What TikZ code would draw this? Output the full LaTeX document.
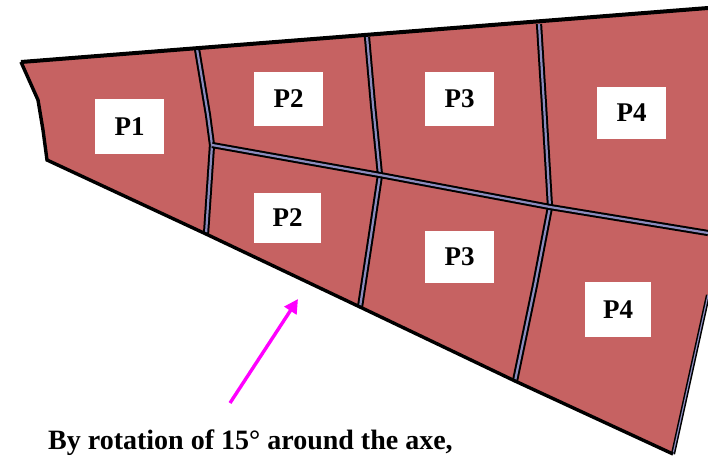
\documentclass[tikz,border=0pt]{standalone}
\usepackage{fontspec}
\setmainfont{Liberation Serif}
\definecolor{panel}{RGB}{198,98,98}
\definecolor{ribcore}{RGB}{140,140,190}
\definecolor{arrowpink}{RGB}{255,0,255}
\usetikzlibrary{arrows.meta}
\tikzset{
  rib/.style={draw=black,line width=2pt,double=ribcore,double distance=2.2pt,line join=round},
  edgeline/.style={draw=black,line join=miter},
  tag/.style={fill=white,inner sep=0pt,font=\bfseries\fontsize{27}{27}\selectfont,text=black,anchor=center},
  callout/.style={draw=arrowpink,line width=3.4pt,-{Triangle[length=14pt,width=14pt]}}
}
\begin{document}
\begin{tikzpicture}[x=1pt,y=-1pt]
\useasboundingbox (0,0) rectangle (708,458);
% corners
\coordinate (tl) at (21,62);
\coordinate (tr) at (708,8);
\coordinate (rm) at (708,295);
\coordinate (br) at (673,454);
\coordinate (bl) at (47,160);
\coordinate (mk) at (43,130);
\coordinate (ml) at (38,100);
\coordinate (a1) at (197,49);
\coordinate (a2) at (208,115);
\coordinate (a3) at (212,145);
\coordinate (a4) at (206,234);
\coordinate (b1) at (367,37);
\coordinate (b2) at (373,105);
\coordinate (b3) at (380,175);
\coordinate (b4) at (371,235);
\coordinate (b5) at (360,307);
\coordinate (c1) at (539,24);
\coordinate (c2) at (544,105);
\coordinate (c3) at (550,207);
\coordinate (c4) at (535,285);
\coordinate (c5) at (515,381);
\coordinate (e) at (708,233);
\fill[panel] (tl) -- (tr) -- (rm) -- (br) -- (bl) -- (mk) -- (ml) -- cycle;
% ribs
\draw[rib] (a1) -- (a2) -- (a3) -- (a4);
\draw[rib] (b1) -- (b2) -- (b3) -- (b4) -- (b5);
\draw[rib] (c1) -- (c2) -- (c3) -- (c4) -- (c5);
\draw[rib] (a3) -- (b3) -- (c3) -- (e);
\draw[rib,line width=1.5pt,double distance=1.2pt] (br) -- (rm);
% outline
\draw[edgeline,line width=4pt] (tl) -- (tr);
\draw[edgeline,line width=3.4pt] (tl) -- (ml) -- (mk) -- (bl) -- (a4) -- (b5) -- (c5) -- (br);
% labels
\node[tag,minimum width=69pt,minimum height=55pt] (p1) at (129.5,126.5) {P1};
\node[tag,minimum width=69pt,minimum height=54pt] (p2a) at (288.5,99) {P2};
\node[tag,minimum width=67pt,minimum height=50pt] (p2b) at (287.5,218) {P2};
\node[tag,minimum width=69pt,minimum height=54pt] (p3a) at (459.5,99) {P3};
\node[tag,minimum width=69pt,minimum height=52pt] (p3b) at (459.5,257) {P3};
\node[tag,minimum width=69pt,minimum height=52pt] (p4a) at (631.5,113) {P4};
\node[tag,minimum width=66pt,minimum height=55pt] (p4b) at (618,309.5) {P4};
% callout
\coordinate (as) at (230,403);
\coordinate (ae) at (298,299);
\draw[callout] (as) -- (ae);
\node[anchor=base west,inner sep=0pt,font=\bfseries\fontsize{28}{28}\selectfont] (cap) at (48,449) {By rotation of 15° around the axe,};
\end{tikzpicture}
\end{document}
